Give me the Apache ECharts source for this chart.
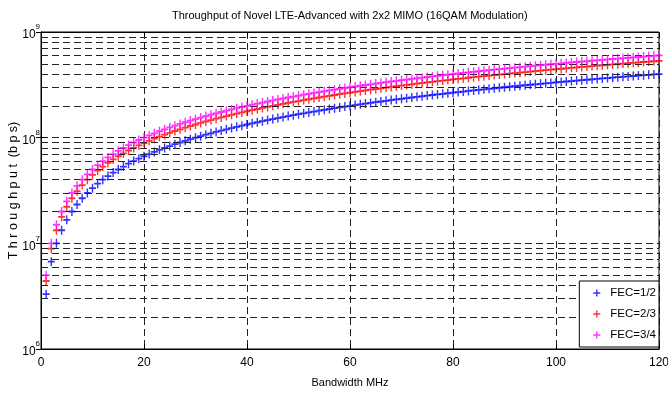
<!DOCTYPE html>
<html>
<head>
<meta charset="utf-8">
<script src="https://cdn.jsdelivr.net/npm/echarts@6/dist/echarts.min.js"></script>
<style>html,body{margin:0;padding:0;background:#fff}#c{width:668px;height:394px}</style>
</head>
<body>
<div id="c"></div>
<script>
// Bandwidth (MHz)
const bandwidth = [1,2,3,4,5,6,7,8,9,10,11,12,13,14,15,16,17,18,19,20,
21,22,23,24,25,26,27,28,29,30,31,32,33,34,35,36,37,38,39,40,
41,42,43,44,45,46,47,48,49,50,51,52,53,54,55,56,57,58,59,60,
61,62,63,64,65,66,67,68,69,70,71,72,73,74,75,76,77,78,79,80,
81,82,83,84,85,86,87,88,89,90,91,92,93,94,95,96,97,98,99,100,
101,102,103,104,105,106,107,108,109,110,111,112,113,114,115,116,117,118,119,120];

// Throughput in Mbps
const fec12 = [3.3,6.7,10,13.3,16.7,20,23.3,26.7,30,33.3,
36.7,40,43.3,46.7,50,53.3,56.7,60,63.3,66.7,
70,73.3,76.7,80,83.3,86.7,90,93.3,96.7,100,
103.3,106.7,110,113.3,116.7,120,123.3,126.7,130,133.3,
136.7,140,143.3,146.7,150,153.3,156.7,160,163.3,166.7,
170,173.3,176.7,180,183.3,186.7,190,193.3,196.7,200,
203.3,206.7,210,213.3,216.7,220,223.3,226.7,230,233.3,
236.7,240,243.3,246.7,250,253.3,256.7,260,263.3,266.7,
270,273.3,276.7,280,283.3,286.7,290,293.3,296.7,300,
303.3,306.7,310,313.3,316.7,320,323.3,326.7,330,333.3,
336.7,340,343.3,346.7,350,353.3,356.7,360,363.3,366.7,
370,373.3,376.7,380,383.3,386.7,390,393.3,396.7,400];

const fec23 = [4.4,8.9,13.3,17.8,22.2,26.7,31.1,35.6,40,
44.4,48.9,53.3,57.8,62.2,66.7,71.1,75.6,80,
84.4,88.9,93.3,97.8,102.2,106.7,111.1,115.6,120,
124.4,128.9,133.3,137.8,142.2,146.7,151.1,155.6,160,
164.4,168.9,173.3,177.8,182.2,186.7,191.1,195.6,200,
204.4,208.9,213.3,217.8,222.2,226.7,231.1,235.6,240,
244.4,248.9,253.3,257.8,262.2,266.7,271.1,275.6,280,
284.4,288.9,293.3,297.8,302.2,306.7,311.1,315.6,320,
324.4,328.9,333.3,337.8,342.2,346.7,351.1,355.6,360,
364.4,368.9,373.3,377.8,382.2,386.7,391.1,395.6,400,
404.4,408.9,413.3,417.8,422.2,426.7,431.1,435.6,440,
444.4,448.9,453.3,457.8,462.2,466.7,471.1,475.6,480,
484.4,488.9,493.3,497.8,502.2,506.7,511.1,515.6,520,
524.4,528.9,533.3];

const fec34 = [5,10,15,20,25,30,35,40,45,50,
55,60,65,70,75,80,85,90,95,100,
105,110,115,120,125,130,135,140,145,150,
155,160,165,170,175,180,185,190,195,200,
205,210,215,220,225,230,235,240,245,250,
255,260,265,270,275,280,285,290,295,300,
305,310,315,320,325,330,335,340,345,350,
355,360,365,370,375,380,385,390,395,400,
405,410,415,420,425,430,435,440,445,450,
455,460,465,470,475,480,485,490,495,500,
505,510,515,520,525,530,535,540,545,550,
555,560,565,570,575,580,585,590,595,600];

const seriesNames = ['FEC=1/2', 'FEC=2/3', 'FEC=3/4'];
const seriesColors = ['#0000ff', '#ff0000', '#ff00ff'];
const xTicks = [0, 20, 40, 60, 80, 100, 120];
const yTickExponents = [6, 7, 8, 9];
const minorGridValues = [2e6,3e6,4e6,5e6,6e6,7e6,8e6,9e6,
  2e7,3e7,4e7,5e7,6e7,7e7,8e7,9e7,
  2e8,3e8,4e8,5e8,6e8,7e8,8e8,9e8];

const MBPS = 1e6;
const FONT = "'Liberation Sans',Arial,Helvetica,sans-serif";
const PLUS = 'path://M0,4H10V6H0Z M4,0H6V10H4Z';
const gridLine = { color: '#222', width: 1, type: [7, 4] };

const chart = echarts.init(document.getElementById('c'), null, { renderer: 'canvas' });

const allSeries = [fec12, fec23, fec34];
const scatterSeries = allSeries.map((arr, k) => ({
  name: seriesNames[k],
  type: 'scatter',
  symbol: PLUS,
  symbolSize: [7, 9],
  itemStyle: { color: seriesColors[k] },
  z: 3 + k,
  data: bandwidth.map((x, i) => [x, arr[i] * MBPS])
}));

const option = {
  animation: false,
  backgroundColor: '#fff',
  textStyle: { fontFamily: FONT },
  title: {
    text: 'Throughput of Novel LTE-Advanced with 2x2 MIMO (16QAM Modulation)',
    left: 172,
    top: 10,
    padding: 0,
    textStyle: { fontFamily: FONT, fontSize: 11, fontWeight: 'normal', color: '#000' }
  },
  grid: { left: 41, right: 9, top: 32, bottom: 45, outerBoundsMode: 'none', containLabel: false, show: true, borderColor: '#000', borderWidth: 1, backgroundColor: '#fff' },
  legend: {
    z: 20,
    orient: 'vertical',
    right: 9,
    bottom: 47,
    padding: [6, 3, 6, 14],
    itemWidth: 7,
    itemHeight: 9,
    itemGap: 9,
    backgroundColor: '#fff',
    borderColor: '#000',
    borderWidth: 1,
    borderRadius: 0,
    textStyle: { fontFamily: FONT, fontSize: 11.5, color: '#000', padding: [0, 0, 0, 5] },
    data: seriesNames
  },
  xAxis: [{
    type: 'value',
    min: xTicks[0],
    max: xTicks[xTicks.length - 1],
    interval: 20,
    name: 'Bandwidth MHz',
    nameLocation: 'middle',
    nameGap: 28,
    nameMoveOverlap: false,
    nameTextStyle: { fontFamily: FONT, fontSize: 11, color: '#000' },
    axisLine: { show: true, lineStyle: { color: '#000', width: 1 } },
    axisTick: { show: true, inside: true, length: 5, lineStyle: { color: '#000' } },
    axisLabel: { fontFamily: FONT, fontSize: 12, color: '#000', margin: 8 },
    splitLine: { show: true, lineStyle: gridLine }
  }, {
    type: 'value',
    position: 'top',
    min: xTicks[0],
    max: xTicks[xTicks.length - 1],
    interval: 20,
    axisLine: { show: true, lineStyle: { color: '#000', width: 1 } },
    axisTick: { show: true, inside: true, length: 5, lineStyle: { color: '#000' } },
    axisLabel: { show: false },
    splitLine: { show: false }
  }],
  yAxis: [{
    type: 'log',
    logBase: 10,
    min: Math.pow(10, yTickExponents[0]),
    max: Math.pow(10, yTickExponents[yTickExponents.length - 1]),
    name: 'T h r o u g h p u t  (b p s)',
    nameLocation: 'middle',
    nameGap: 21,
    nameMoveOverlap: false,
    nameTextStyle: { fontFamily: FONT, fontSize: 12.5, color: '#000' },
    axisLine: { show: true, lineStyle: { color: '#000', width: 1 } },
    axisTick: { show: true, inside: true, length: 5, lineStyle: { color: '#000' } },
    axisLabel: {
      margin: 1,
      formatter: function (v) {
        const e = Math.round(Math.log10(v));
        return '{b|10}{s|' + e + '}';
      },
      rich: {
        b: { fontFamily: FONT, fontSize: 12, color: '#000', verticalAlign: 'bottom', padding: [6, 0, 0, 0] },
        s: { fontFamily: FONT, fontSize: 8, color: '#000', verticalAlign: 'top', padding: [0, 0, 8, 0] }
      }
    },
    splitLine: { show: true, lineStyle: gridLine }
  }, {
    type: 'log',
    logBase: 10,
    position: 'right',
    min: Math.pow(10, yTickExponents[0]),
    max: Math.pow(10, yTickExponents[yTickExponents.length - 1]),
    axisLine: { show: true, lineStyle: { color: '#000', width: 1 } },
    axisTick: { show: true, inside: true, length: 5, lineStyle: { color: '#000' } },
    axisLabel: { show: false },
    splitLine: { show: false }
  }],
  series: [{
    type: 'line',
    data: [],
    silent: true,
    z: 1,
    markLine: {
      silent: true,
      symbol: ['none', 'none'],
      label: { show: false },
      lineStyle: gridLine,
      animation: false,
      data: minorGridValues.map(v => ({ yAxis: v }))
    }
  }].concat(scatterSeries)
};

chart.setOption(option);
</script>
</body>
</html>
